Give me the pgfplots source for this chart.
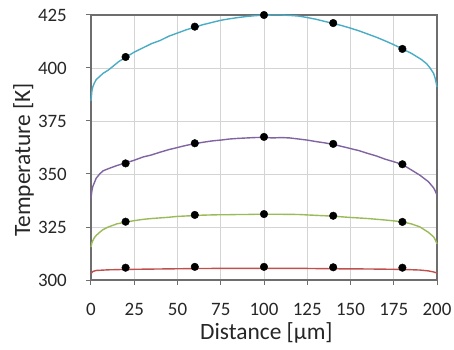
\documentclass[border=0pt]{standalone}
\usepackage{pgfplots}
\pgfplotsset{compat=1.18}
\usepackage{fontspec}
\setmainfont{Carlito}
\definecolor{cyanc}{RGB}{75,172,198}
\definecolor{purplec}{RGB}{128,100,162}
\definecolor{greenc}{RGB}{155,187,89}
\definecolor{redc}{RGB}{192,80,77}
\definecolor{axc}{RGB}{110,110,110}
\definecolor{gridc}{RGB}{212,212,212}
\begin{document}
\begin{tikzpicture}
\begin{axis}[
  scale only axis, width=346bp, height=265bp,
  xmin=0, xmax=200, ymin=300, ymax=425,
  xtick={0,25,...,200}, ytick={300,325,...,425},
  grid=major, major grid style={color=gridc, line width=0.8bp},
  axis line style={color=axc, line width=1.1bp},
  tick style={color=axc, line width=1bp},
  tick align=outside, major tick length=5bp,
  xtick pos=bottom, ytick pos=left,
  clip=false,
  /pgf/number format/assume math mode=true,
  tick label style={font=\fontsize{19}{22}\selectfont, text=black!85},
  xticklabel style={anchor=base, inner sep=0pt, yshift=-30bp},
  yticklabel style={anchor=east, inner sep=0pt, xshift=-19bp},
  label style={font=\fontsize{23.5}{26}\selectfont, text=black!85},
  xlabel={Distance [\textmu m]},
  ylabel={Temperature [K]},
  xlabel style={at={(axis description cs:0.507,-0.2264)}, anchor=base, inner sep=0pt},
  ylabel style={at={(axis description cs:-0.176,0.453)}, anchor=base, inner sep=0pt},
]
\addplot[color=cyanc, line width=1.4bp, no marks] coordinates {
(0,384.5) (0.5,389) (1,391) (2,393) (3,394.5) (5,396) (7,397.5) (10,399) (13,401) (16,403) (20,405) (25,407.5) (30,409.5) (35,411.5) (40,413) (45,415) (50,416.5) (55,418) (60,419.3) (65,420.5) (70,421.5) (75,422.5) (80,423.2) (85,423.8) (90,424.3) (95,424.7) (100,424.9) (105,425) (110,425) (115,424.8) (120,424.5) (125,423.8) (130,423) (135,422) (140,421) (145,420) (150,418.8) (155,417.5) (160,416) (165,414.5) (170,412.8) (175,411) (180,409) (185,407) (188,405.5) (191,404) (194,402) (196,400) (198,397.5) (199,395) (200,391)
};
\addplot[color=purplec, line width=1.4bp, no marks] coordinates {
(0,338.5) (0.5,342) (1,344) (2,346) (3,348) (5,350) (7,351.5) (10,352.5) (15,354) (20,355.2) (25,356.5) (30,358) (35,359) (40,360.3) (45,361.5) (50,362.5) (55,363.5) (60,364.3) (65,365) (70,365.6) (75,366) (80,366.5) (85,366.8) (90,367) (95,367.2) (100,367.3) (105,367) (110,367.2) (115,367) (120,366.5) (125,366) (130,365.3) (135,364.7) (140,364) (145,363) (150,362) (155,361) (160,359.7) (165,358.5) (170,357) (175,355.8) (180,354.5) (185,352) (190,349.5) (195,346.4) (198,343.5) (199,342) (200,340)
};
\addplot[color=greenc, line width=1.4bp, no marks] coordinates {
(0,315.5) (0.5,317.5) (1,318.5) (2,320) (3,321) (5,322.5) (7,323.8) (10,325) (15,326.5) (20,327.3) (25,328) (30,328.6) (35,329) (40,329.3) (45,329.6) (50,330) (55,330.2) (60,330.4) (65,330.6) (70,330.7) (75,330.8) (80,330.8) (85,330.9) (90,330.9) (95,331) (100,331) (110,331) (120,330.9) (130,330.5) (140,330.1) (150,329.5) (160,329) (170,328.3) (175,327.9) (180,327.4) (185,326.5) (190,325.1) (195,322.5) (198,320.4) (199,319) (200,317)
};
\addplot[color=redc, line width=1.4bp, no marks] coordinates {
(0,303) (1,304) (3,304.5) (10,304.8) (20,305) (40,305.2) (60,305.4) (80,305.5) (100,305.5) (120,305.5) (140,305.3) (160,305.2) (180,305) (190,304.7) (195,304.3) (198,303.8) (200,303.3)
};
\addplot[only marks, mark=*, mark size=3.8bp, mark options={fill=black, draw=black}] coordinates {
(20,405.2) (60,419.5) (100,425) (140,421.2) (180,409)
(20,355) (60,364.5) (100,367.5) (140,364.2) (180,354.6)
(20,327.5) (60,330.7) (100,331.1) (140,330.3) (180,327.4)
(20,305.8) (60,306.2) (100,306.2) (140,306) (180,305.8)
};
\coordinate (sw) at (rel axis cs:0,0);
\end{axis}
\pgfresetboundingbox
\path (sw) ++(-91bp,-70bp) rectangle ++(454bp,350bp);
\end{tikzpicture}
\end{document}
